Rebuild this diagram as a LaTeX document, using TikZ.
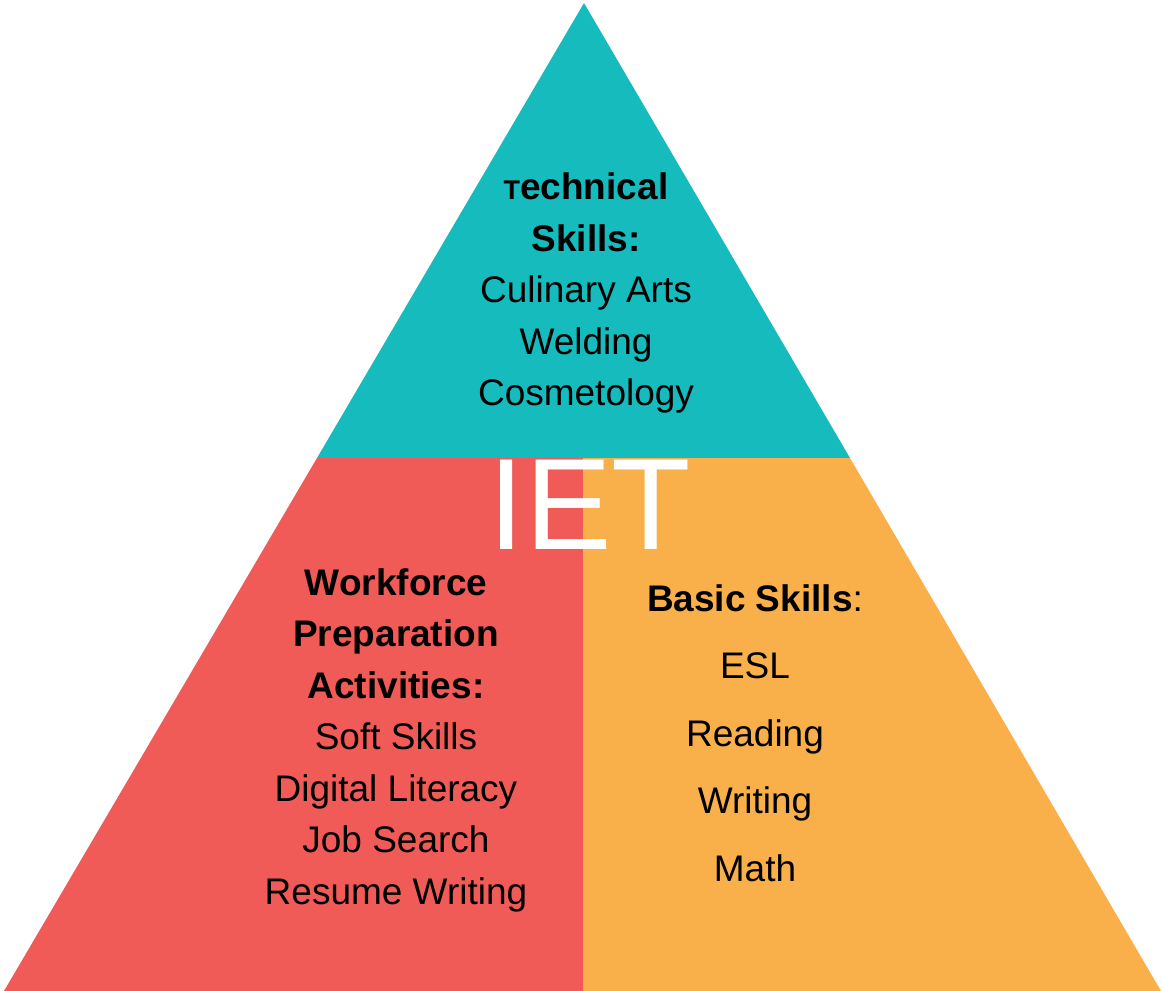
\documentclass[tikz,border=0pt]{standalone}
\usepackage{fontspec}
\setmainfont{Liberation Sans}
\definecolor{ietteal}{RGB}{21,187,189}
\definecolor{ietred}{RGB}{240,91,87}
\definecolor{ietorange}{RGB}{250,176,74}
\begin{document}
\begin{tikzpicture}[x=1pt, y=-1pt,
    blocktext/.style={align=center, inner sep=0pt, font=\fontsize{37}{51.5}\selectfont},
    basictext/.style={align=center, inner sep=0pt, font=\fontsize{37}{67.5}\selectfont},
    bigtitle/.style={inner sep=0pt, text=white, font=\fontsize{130}{130}\selectfont}
  ]
  \useasboundingbox (0,0) rectangle (1163,991);
  % three parts of the pyramid
  \fill[ietteal] (584,3) -- (850,458) -- (317,458) -- cycle;
  \fill[ietred] (317,458) -- (583,458) -- (583,991) -- (4,991) -- cycle;
  \fill[ietorange] (583,458) -- (850,458) -- (1161,991) -- (583,991) -- cycle;

  \node[blocktext] (technical) at (586,293) {\textbf{{\fontsize{27}{27}\selectfont T}echnical}\\ \textbf{Skills:}\\ Culinary Arts\\ Welding\\ Cosmetology};
  \node[blocktext] (workforce) at (396,740) {\textbf{Workforce}\\ \textbf{Preparation}\\ \textbf{Activities:}\\ Soft Skills\\ Digital Literacy\\ Job Search\\ Resume Writing};
  \node[basictext] (basic) at (755,733) {\textbf{Basic Skills}:\\ ESL\\ Reading\\ Writing\\ Math};
  \node[bigtitle] (iet) at (590,505) {IET};
\end{tikzpicture}
\end{document}
